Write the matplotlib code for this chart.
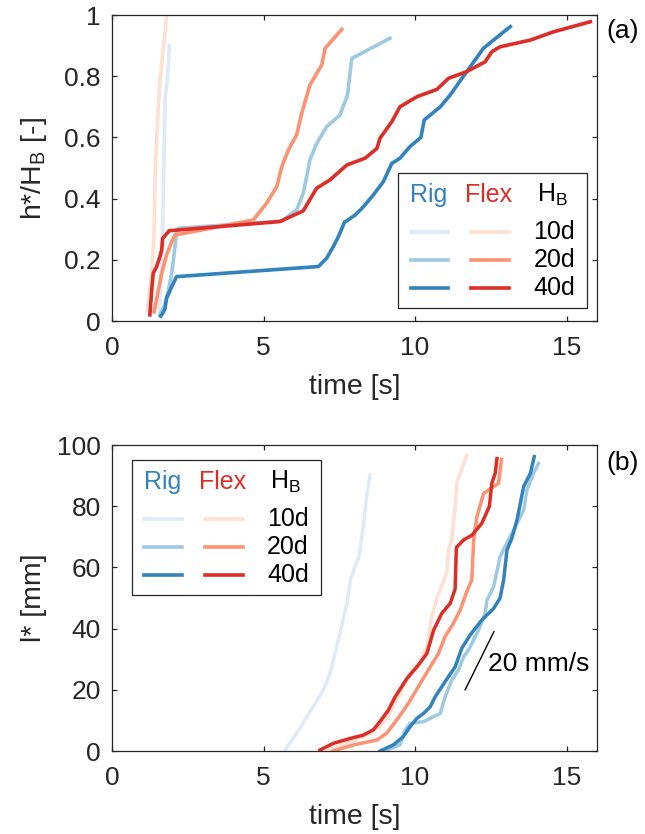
import matplotlib
matplotlib.use("Agg")
import matplotlib.pyplot as plt
from matplotlib.patches import Rectangle
from matplotlib.lines import Line2D

plt.rcParams['font.family'] = ['Liberation Sans', 'DejaVu Sans']
plt.rcParams['mathtext.fontset'] = 'custom'
plt.rcParams['mathtext.rm'] = 'Liberation Sans'

# colours (ColorBrewer Blues / Reds)
rig_cols = ['#deebf7', '#9ecae1', '#3182bd']
flex_cols = ['#fee0d2', '#fc9272', '#de2d26']
hb_labels = ['10d', '20d', '40d']

# ---------- (a) h*/H_B vs time ----------
rig10_t = [1.56, 1.60, 1.64, 1.67, 1.70, 1.73, 1.76, 1.82, 1.86, 1.89]
rig10_h = [0.03, 0.10, 0.20, 0.30, 0.45, 0.60, 0.74, 0.78, 0.84, 0.90]
flex10_t = [1.17, 1.24, 1.31, 1.36, 1.39, 1.42, 1.47, 1.53, 1.58, 1.64, 1.69, 1.75, 1.80]
flex10_h = [0.036, 0.10, 0.16, 0.23, 0.30, 0.46, 0.59, 0.70, 0.78, 0.84, 0.89, 0.94, 0.995]
rig20_t = [1.58, 1.72, 1.86, 1.97, 2.05, 2.13, 2.19, 5.6, 6.09, 6.31, 6.53, 6.75, 7.08, 7.52,
           7.77, 7.91, 9.17]
rig20_h = [0.02, 0.047, 0.10, 0.156, 0.22, 0.287, 0.303, 0.327, 0.363, 0.417, 0.526, 0.58,
           0.635, 0.673, 0.739, 0.858, 0.924]
flex20_t = [1.39, 1.53, 1.64, 1.80, 1.97, 2.08, 4.66, 5.1, 5.44, 5.60, 5.82, 6.09, 6.26, 6.53,
            6.92, 7.03, 7.58]
flex20_h = [0.03, 0.10, 0.156, 0.216, 0.259, 0.281, 0.33, 0.385, 0.44, 0.504, 0.559, 0.608,
            0.679, 0.771, 0.837, 0.891, 0.953]
rig40_t = [1.61, 1.70, 1.75, 1.80, 1.97, 2.13, 6.81, 7.08, 7.30, 7.47, 7.67, 8.02, 8.30, 8.62,
           8.95, 9.23, 9.50, 9.83, 10.19, 10.30, 10.83, 11.16, 11.43, 11.82, 12.25, 12.86, 13.14]
rig40_h = [0.016, 0.03, 0.041, 0.074, 0.112, 0.145, 0.178, 0.205, 0.243, 0.276, 0.323, 0.346,
           0.374, 0.412, 0.455, 0.515, 0.532, 0.570, 0.600, 0.657, 0.700, 0.739, 0.777, 0.831,
           0.891, 0.940, 0.962]
flex40_t = [1.25, 1.31, 1.36, 1.47, 1.58, 1.64, 1.67, 1.89, 5.54, 6.31, 6.75, 7.19, 7.75, 8.35,
            8.74, 8.84, 9.23, 9.50, 10.06, 10.72, 11.1, 11.7, 12.31, 12.53, 12.8, 13.8, 14.56,
            15.78]
flex40_h = [0.02, 0.10, 0.156, 0.177, 0.21, 0.232, 0.27, 0.295, 0.325, 0.36, 0.434, 0.461,
            0.51, 0.532, 0.564, 0.597, 0.651, 0.70, 0.733, 0.757, 0.793, 0.815, 0.847, 0.88,
            0.896, 0.918, 0.945, 0.978]

# ---------- (b) l* vs time ----------
rig10b_t = [5.71, 6.09, 6.64, 6.97, 7.19, 7.47, 7.75, 7.87, 8.0, 8.15, 8.27, 8.40, 8.51]
rig10b_l = [0.3, 5.8, 14.5, 19.9, 25.4, 36.3, 48.3, 56, 60, 63.5, 72, 83.1, 90.2]
flex10b_t = [7.1, 7.6, 8.29, 8.84, 9.17, 9.56, 9.83, 10.17, 10.39, 10.55, 10.75, 11.05, 11.1,
             11.21, 11.32, 11.38, 11.7]
flex10b_l = [0, 2, 4.7, 7.9, 12.3, 19.9, 25.4, 29.7, 34.1, 43.9, 51, 58.1, 65.7, 69, 79.8, 88,
             96.5]
rig20b_t = [9.06, 9.5, 9.67, 9.83, 10.28, 10.83, 10.99, 11.21, 11.43, 11.6, 11.76, 12.09, 12.31,
            12.37, 12.59, 12.8, 13.08, 13.25, 13.58, 13.69, 13.9, 14.07]
rig20b_l = [0.3, 2, 6.9, 9, 9.6, 12.3, 17.7, 23.2, 26.5, 30.8, 33, 39.5, 45, 49.3, 53.7, 63.5,
            69, 72.2, 78.8, 85.3, 90.7, 94]
flex20b_t = [7.3, 7.97, 8.74, 9.06, 9.39, 9.78, 10.17, 10.5, 10.77, 10.99, 11.26, 11.49, 11.7,
             11.87, 11.93, 12.04, 12.26, 12.75, 12.85]
flex20b_l = [0, 2, 3.6, 5.8, 10.1, 15.6, 22.1, 27.5, 31.9, 37.4, 41.7, 46.1, 52, 55.9, 69, 76.6,
             84.2, 87.5, 95.3]
rig40b_t = [8.84, 9.28, 9.61, 9.83, 10.06, 10.28, 10.5, 10.66, 10.88, 11.1, 11.32, 11.54, 11.82,
            12.2, 12.59, 12.8, 12.92, 13.03, 13.19, 13.36, 13.58, 13.8, 13.93]
rig40b_l = [0, 2, 4.7, 7.9, 10.7, 12.3, 14.5, 17.7, 21, 24.3, 27.5, 33.6, 38, 42.8, 46.6, 49.9,
            55.9, 65.7, 69.5, 75.5, 86.4, 90.7, 96.2]
flex40b_t = [6.86, 7.30, 7.85, 8.29, 8.62, 8.84, 9.12, 9.34, 9.73, 10.11, 10.39, 10.61, 10.88,
             11.16, 11.32, 11.36, 11.6, 11.87, 12.2, 12.45, 12.53, 12.64, 12.7]
flex40b_l = [0.3, 2.5, 4.1, 5.2, 6.9, 9.6, 13.4, 17.7, 23.7, 28.1, 31.9, 39.5, 45, 48.3, 53,
             66.5, 69, 70.5, 74.4, 80, 87.5, 90.7, 95.6]

# 20 mm/s reference slope
scale_t = [11.65, 12.6]
scale_l = [20, 39]

top_series = [(rig10_t, rig10_h, rig_cols[0]), (flex10_t, flex10_h, flex_cols[0]),
              (rig20_t, rig20_h, rig_cols[1]), (flex20_t, flex20_h, flex_cols[1]),
              (rig40_t, rig40_h, rig_cols[2]), (flex40_t, flex40_h, flex_cols[2])]
bot_series = [(rig10b_t, rig10b_l, rig_cols[0]), (flex10b_t, flex10b_l, flex_cols[0]),
              (rig20b_t, rig20b_l, rig_cols[1]), (flex20b_t, flex20b_l, flex_cols[1]),
              (rig40b_t, rig40b_l, rig_cols[2]), (flex40b_t, flex40b_l, flex_cols[2])]

TICK_FS = 19
LAB_FS = 20.5
LEG_FS = 18
AX_W, AX_H = 485.0, 306.0  # axes size in pixels


def style_axes(ax):
    for s in ax.spines.values():
        s.set_color('#262626')
        s.set_linewidth(0.9)
    ax.tick_params(direction='in', top=True, right=True, length=3.6, width=0.9,
                   colors='#262626', labelsize=TICK_FS)
    ax.tick_params(axis='x', pad=11)
    ax.tick_params(axis='y', pad=8)
    ax.set_xlim(0, 16)
    ax.set_xticks([0, 5, 10, 15])
    ax.set_xlabel('time [s]', fontsize=LAB_FS, color='#262626', va='center')
    ax.xaxis.set_label_coords(0.5, -0.215)


def draw_legend(ax, bx, by):
    # bx, by: top-left corner of the box in axes fraction
    def fx(px):
        return bx + px / AX_W

    def fy(py):
        return by - py / AX_H

    ax.add_patch(Rectangle((bx, by - 135 / AX_H), 189 / AX_W, 135 / AX_H, transform=ax.transAxes,
                           facecolor='white', edgecolor='#262626', lw=0.9, zorder=5))
    ax.text(fx(31), fy(22), 'Rig', color='#3182bd', fontsize=LEG_FS, ha='center', va='center',
            transform=ax.transAxes, zorder=6)
    ax.text(fx(91), fy(22), 'Flex', color='#de2d26', fontsize=LEG_FS, ha='center', va='center',
            transform=ax.transAxes, zorder=6)
    ax.text(fx(154), fy(22), r'H$_\mathregular{B}$', color='black', fontsize=LEG_FS, ha='center',
            va='center', transform=ax.transAxes, zorder=6)
    rows = [59, 87, 115]
    for i in range(3):
        ax.add_line(Line2D([fx(12.6), fx(50)], [fy(rows[i]), fy(rows[i])], color=rig_cols[i],
                           lw=2.6, transform=ax.transAxes, zorder=6))
        ax.add_line(Line2D([fx(73), fx(111)], [fy(rows[i]), fy(rows[i])], color=flex_cols[i],
                           lw=2.6, transform=ax.transAxes, zorder=6))
        ax.text(fx(177), fy(rows[i]), hb_labels[i], fontsize=LEG_FS, ha='right', va='center',
                transform=ax.transAxes, zorder=6)


fig = plt.figure(figsize=(6.45, 8.34), dpi=100)
ax1 = fig.add_axes([0.1736, 0.6151, 0.752, 0.3669])
ax2 = fig.add_axes([0.1736, 0.0995, 0.752, 0.3669])

# panel (a)
for t, h, c in top_series:
    ax1.plot(t, h, color=c, lw=2.6, solid_joinstyle='round')
style_axes(ax1)
ax1.set_ylim(0, 1)
ax1.set_yticks([0, 0.2, 0.4, 0.6, 0.8, 1])
ax1.set_yticklabels(['0', '0.2', '0.4', '0.6', '0.8', '1'])
ax1.set_ylabel(r'h*/H$_\mathregular{B}$ [-]', fontsize=LAB_FS, color='#262626', va='center')
ax1.yaxis.set_label_coords(-0.16, 0.5)
draw_legend(ax1, 0.5897, 0.4837)
ax1.text(1.02, 0.948, '(a)', transform=ax1.transAxes, fontsize=TICK_FS, va='center', ha='left')

# panel (b)
for t, l, c in bot_series:
    ax2.plot(t, l, color=c, lw=2.5, solid_joinstyle='round')
ax2.plot(scale_t, scale_l, color='black', lw=1.0)
ax2.text(12.41, 28.6, '20 mm/s', fontsize=TICK_FS, va='center', ha='left')
style_axes(ax2)
ax2.set_ylim(0, 100)
ax2.set_yticks([0, 20, 40, 60, 80, 100])
ax2.set_ylabel('l* [mm]', fontsize=LAB_FS, color='#262626', va='center')
ax2.yaxis.set_label_coords(-0.16, 0.5)
draw_legend(ax2, 0.0406, 0.951)
ax2.text(1.02, 0.941, '(b)', transform=ax2.transAxes, fontsize=TICK_FS, va='center', ha='left')

fig.savefig('out.png', dpi=100)
